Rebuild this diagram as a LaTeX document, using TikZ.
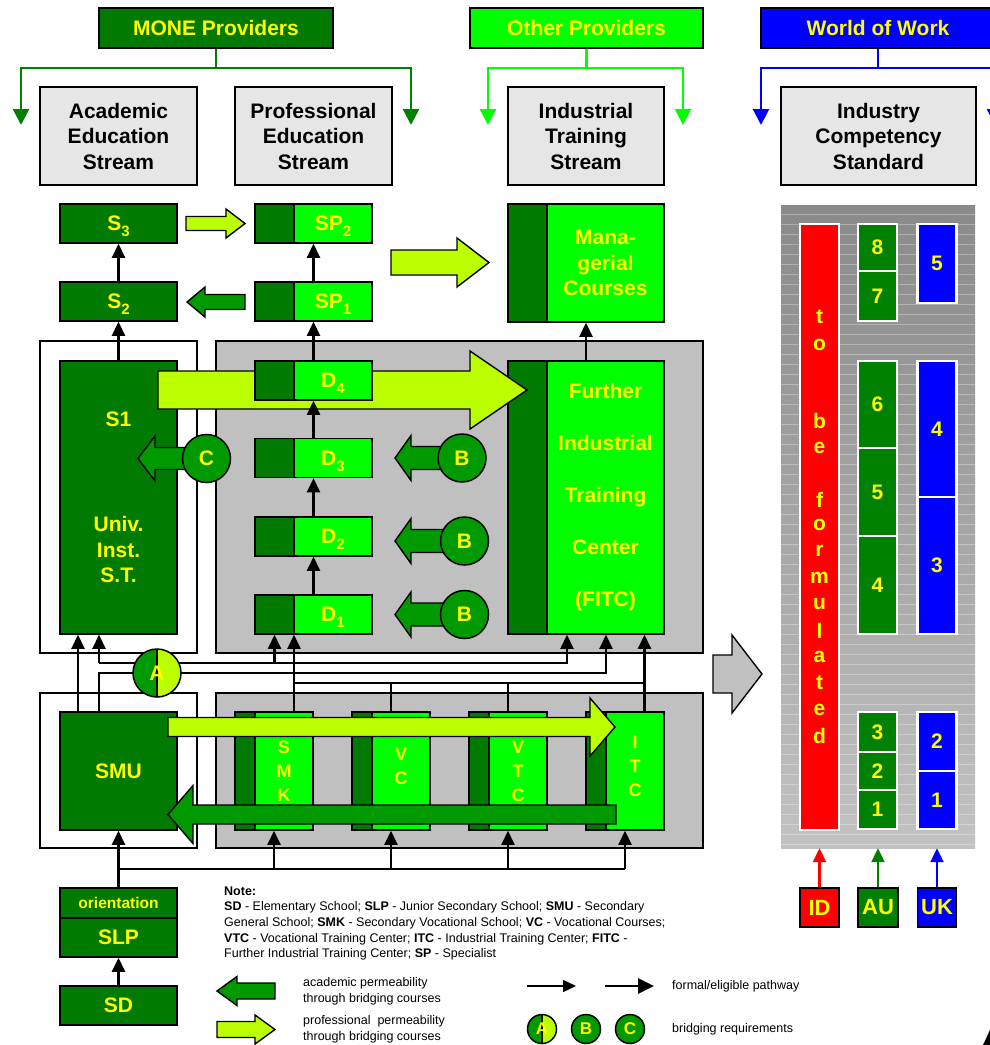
\documentclass[tikz,border=0pt]{standalone}
\usepackage{fontspec}
\setmainfont{Liberation Sans}
\usetikzlibrary{arrows.meta}

\newcommand{\boxfont}{\bfseries\fontsize{21}{25.5}\selectfont}
\newcommand{\notefont}{\fontsize{12.5}{15.6}\selectfont}
\newcommand{\lowidx}[1]{\raisebox{-6pt}[0pt][0pt]{\fontsize{15}{15}\selectfont #1}}
% fill, tail x, tip x, y, shaft half, head half, head length
\newcommand{\blockarrow}[7]{%
  \filldraw[fill=#1,draw=black,line width=1.4pt] (#2,{#4-#5}) -- ({#3-(#7)},{#4-#5}) -- ({#3-(#7)},{#4-#6}) -- (#3,#4)
    -- ({#3-(#7)},{#4+#6}) -- ({#3-(#7)},{#4+#5}) -- (#2,{#4+#5}) -- cycle;}

\begin{document}
\begin{tikzpicture}[x=1pt,y=-1pt,
  box/.style={draw,line width=1.5pt,inner sep=0pt,font=\boxfont,align=center},
  darkbox/.style={box,fill=monegreen,text=txtyellow},
  headbox/.style={box,fill=headgray},
  splitbox/.style={box,fill=brightgreen,path picture={
    \fill[monegreen] (path picture bounding box.north west) rectangle ([xshift=#1]path picture bounding box.south west);
    \draw[line width=1.5pt] ([xshift=#1]path picture bounding box.north west) -- ([xshift=#1]path picture bounding box.south west);}},
  lbl/.style={font=\boxfont,text=txtyellow,align=center},
  streamframe/.style={draw,line width=1.5pt,inner sep=0pt},
  bridge/.style={circle,draw,line width=1.5pt,fill=bridgegreen,inner sep=0pt,minimum size=48pt,font=\boxfont,text=txtyellow},
  halfbridge/.style={bridge,path picture={
    \fill[limearrow] (path picture bounding box.north) rectangle (path picture bounding box.south east);
    \draw[line width=1.5pt] (path picture bounding box.north) -- (path picture bounding box.south);}},
  pathway/.style={line width=2.2pt,-{Triangle[length=14pt,width=13pt]}},
  wire/.style={line width=2.2pt},
  feed/.style={line width=2.4pt,-{Triangle[length=16pt,width=16pt]}},
  compbar/.style={draw=white,line width=2.5pt,inner sep=0pt,minimum width=39pt,font=\boxfont,text=txtyellow}]
\definecolor{monegreen}{HTML}{007A00}
\definecolor{augreen}{HTML}{008000}
\definecolor{brightgreen}{HTML}{00FF00}
\definecolor{bridgegreen}{HTML}{009900}
\definecolor{limearrow}{HTML}{BBFF00}
\definecolor{boxgray}{HTML}{C0C0C0}
\definecolor{headgray}{HTML}{E6E6E6}
\definecolor{txtyellow}{HTML}{FFFF00}
\definecolor{wowblue}{HTML}{0000FF}
\definecolor{idred}{HTML}{FF0000}
\definecolor{paneltop}{HTML}{8A8A8A}
\definecolor{panelbot}{HTML}{C2C2C2}
\useasboundingbox (0,0) rectangle (990,1045);
\clip (0,0) rectangle (990,1045);

% providers
\node[darkbox,minimum width=234pt,minimum height=40pt] (mone) at (216,28) {MONE Providers};
\node[box,fill=brightgreen,text=txtyellow,minimum width=233pt,minimum height=40pt] (other) at (586.5,28) {Other Providers};
\node[box,fill=wowblue,text=txtyellow,minimum width=234pt,minimum height=40pt] (wow) at (878,28) {World of Work};
\coordinate (monel) at (21,125);   \coordinate (moner) at (411,125);
\coordinate (otherl) at (488,125); \coordinate (otherr) at (683,125);
\coordinate (wowl) at (761,125);   \coordinate (wowr) at (995,125);
\draw[feed,augreen] (mone.south) -- ++(0,19) -| (monel);
\draw[feed,augreen] (mone.south) -- ++(0,19) -| (moner);
\draw[feed,brightgreen] (other.south) -- ++(0,19) -| (otherl);
\draw[feed,brightgreen] (other.south) -- ++(0,19) -| (otherr);
\draw[feed,wowblue] (wow.south) -- ++(0,19) -| (wowl);
\draw[feed,wowblue] (wow.south) -- ++(0,19) -| (wowr);

\node[headbox,minimum width=157pt,minimum height=98pt] (academic) at (118.5,136) {Academic\\Education\\Stream};
\node[headbox,minimum width=157pt,minimum height=98pt] (professional) at (313.5,136) {Professional\\Education\\Stream};
\node[headbox,minimum width=156pt,minimum height=98pt] (industrial) at (586,136) {Industrial\\Training\\Stream};
\node[headbox,minimum width=195pt,minimum height=98pt] (standard) at (878.5,136) {Industry\\Competency\\Standard};

% upper levels
\node[darkbox,minimum width=117pt,minimum height=39pt] (s3) at (118.5,223.5) {S\lowidx{3}};
\node[darkbox,minimum width=117pt,minimum height=39pt] (s2) at (118.5,301.5) {S\lowidx{2}};
\node[splitbox=39pt,minimum width=117pt,minimum height=39pt,label={[lbl,xshift=19.5pt]center:{SP\lowidx{2}}}] (sp2) at (313.5,223.5) {};
\node[splitbox=39pt,minimum width=117pt,minimum height=39pt,label={[lbl,xshift=19.5pt]center:{SP\lowidx{1}}}] (sp1) at (313.5,301.5) {};
\node[splitbox=39pt,minimum width=156pt,minimum height=118pt,label={[lbl,xshift=19.5pt]center:{Mana-\\gerial\\Courses}}] (managerial) at (586,263) {};
\blockarrow{limearrow}{186}{245}{223.5}{7}{14.5}{19}
\blockarrow{bridgegreen}{245}{187}{302}{7.5}{15}{-18}
\blockarrow{limearrow}{391}{489}{262.5}{12.5}{24.5}{32}
\draw[pathway] (s2) -- (s3);
\draw[pathway] (sp1) -- (sp2);

% middle level
\node[streamframe,fill=white,minimum width=157pt,minimum height=312pt] (acadmid) at (118.5,497) {};
\node[streamframe,fill=boxgray,minimum width=487pt,minimum height=312pt] (profmid) at (459.5,497) {};
\node[darkbox,minimum width=117pt,minimum height=273pt] (s1) at (118.5,497.5) {S1\\[80pt]Univ.\\Inst.\\S.T.};
\node[splitbox=39pt,minimum width=156pt,minimum height=273pt,
  label={[lbl,xshift=19.5pt,font=\bfseries\fontsize{21}{52}\selectfont]center:{Further\\Industrial\\Training\\Center\\(FITC)}}] (fitc) at (586,497.5) {};
\blockarrow{limearrow}{158}{527}{390}{19}{39}{57}
\foreach \n/\y in {4/380.5,3/458,2/536.5,1/614.5}
  \node[splitbox=39pt,minimum width=117pt,minimum height=39pt,label={[lbl,xshift=19.5pt]center:{D\lowidx{\n}}}] (d\n) at (313.5,\y) {};
\draw[pathway] (s1) -- (s2);
\draw[pathway] (d1) -- (d2);
\draw[pathway] (d2) -- (d3);
\draw[pathway] (d3) -- (d4);
\draw[pathway] (d4) -- (sp1);
\draw[pathway] (fitc) -- (managerial);
\blockarrow{bridgegreen}{200}{138}{458.5}{11}{22.5}{-17}
\node[bridge] (cc) at (206.5,458.5) {C};
\foreach \n/\x/\y in {1/462/458,2/464.5/541,3/464.5/614.5}{
  \blockarrow{bridgegreen}{\x}{395}{\y}{11.5}{22.5}{-16}
  \node[bridge] (b\n) at (\x,\y) {B};}

% lower level
\node[streamframe,fill=white,minimum width=157pt,minimum height=155pt] (acadlow) at (118.5,770.5) {};
\node[streamframe,fill=boxgray,minimum width=487pt,minimum height=155pt] (proflow) at (459.5,770.5) {};
\node[darkbox,minimum width=117pt,minimum height=118pt] (smu) at (118.5,771) {SMU};
\foreach \col/\x/\txt/\up in {smk/274/{S\\M\\K}/0pt,vc/391/{V\\C}/5pt,vtc/508/{V\\T\\C}/0pt,itc/625/{I\\T\\C}/5pt}
  \node[splitbox=20pt,minimum width=78pt,minimum height=118pt,
    label={[lbl,xshift=10pt,yshift=\up,font=\bfseries\fontsize{18}{24}\selectfont]center:{\txt}}] (\col) at (\x,771) {};
\blockarrow{limearrow}{168}{615}{727}{9.5}{29}{25}
\blockarrow{bridgegreen}{616}{168}{814.5}{9.5}{29}{-25}
\blockarrow{boxgray}{713}{762}{674}{19}{39}{30}

% pathways between levels
\coordinate (busone) at (99,663);
\coordinate (bustwo) at (99,673);
\coordinate (busthree) at (294,683);
\coordinate (itcup) at ([xshift=19.5pt]itc.north);
\draw[pathway] ([xshift=-40.5pt]smu.north) -- ([xshift=-40.5pt]s1.south);
\draw[pathway] (busone) -- (busone |- s1.south);
\draw[pathway] (busone) -| ([xshift=-19pt]fitc.south);
\draw[pathway] ([xshift=-39pt]d1.south |- busone) -- ([xshift=-39pt]d1.south);
\draw[pathway] (bustwo |- smu.north) -- (bustwo) -| ([xshift=20pt]fitc.south);
\draw[pathway] ([xshift=20pt]smk.north) -- ([xshift=20pt]smk.north |- d1.south);
\draw[pathway] (itcup) -- (itcup |- fitc.south);
\draw[wire] (busthree) -- (busthree -| itcup);
\draw[wire] (vc.north) -- (vc.north |- busthree);
\draw[wire] (vtc.north) -- (vtc.north |- busthree);
\node[halfbridge] (aa) at (157,673) {A};

% entry
\node[darkbox,minimum width=117pt,minimum height=30pt,font=\bfseries\fontsize{15.5}{15.5}\selectfont] (orient) at (118.5,903) {orientation};
\node[darkbox,minimum width=117pt,minimum height=39pt] (slp) at (118.5,937.5) {SLP};
\node[darkbox,minimum width=117pt,minimum height=39pt] (sd) at (118.5,1005.5) {SD};
\coordinate (buslow) at (118.5,869);
\draw[pathway] (sd) -- (slp);
\draw[pathway] (orient) -- (smu);
\draw[wire] (buslow) -- (buslow -| itc.south);
\foreach \col in {smk,vc,vtc,itc}
  \draw[pathway] (\col.south |- buslow) -- (\col.south);

% note and legend
\node[anchor=north west,inner sep=0pt,align=left,font=\notefont] (note) at (224,886.5)
  {\textbf{Note:}\\
   \textbf{SD} - Elementary School; \textbf{SLP} - Junior Secondary School; \textbf{SMU} - Secondary\\
   General School; \textbf{SMK} - Secondary Vocational School; \textbf{VC} - Vocational Courses;\\
   \textbf{VTC} - Vocational Training Center; \textbf{ITC} - Industrial Training Center; \textbf{FITC} -\\
   Further Industrial Training Center; \textbf{SP} - Specialist};
\blockarrow{bridgegreen}{275}{217}{991}{8}{14.5}{-20}
\blockarrow{limearrow}{217}{275}{1029.5}{8}{14.5}{20}
\node[anchor=west,inner sep=0pt,align=left,font=\notefont] (acadkey) at (303,991) {academic permeability\\through bridging courses};
\node[anchor=west,inner sep=0pt,align=left,font=\notefont] (profkey) at (303,1029.5) {professional\ \ permeability\\through bridging courses};
\coordinate (thina) at (527,986);  \coordinate (thinb) at (576,986);
\coordinate (thicka) at (605,986); \coordinate (thickb) at (654,986);
\draw[line width=1.5pt,-{Triangle[length=13pt,width=12pt]}] (thina) -- (thinb);
\draw[line width=2.8pt,-{Triangle[length=16pt,width=15pt]}] (thicka) -- (thickb);
\node[anchor=west,inner sep=0pt,font=\notefont] (pathkey) at (672,986) {formal/eligible pathway};
\node[halfbridge,minimum size=29pt,font=\bfseries\fontsize{17}{17}\selectfont] (keya) at (542,1029) {A};
\node[bridge,minimum size=29pt,font=\bfseries\fontsize{17}{17}\selectfont] (keyb) at (586,1029) {B};
\node[bridge,minimum size=29pt,font=\bfseries\fontsize{17}{17}\selectfont] (keyc) at (630,1029) {C};
\node[anchor=west,inner sep=0pt,font=\notefont] (bridgekey) at (672,1029) {bridging requirements};

% competency standards
\node[inner sep=0pt,minimum width=194pt,minimum height=643pt,top color=paneltop,bottom color=panelbot] (panel) at (878,526.5) {};
\foreach \yy in {214,224,...,844}
  \draw[white,opacity=.3,line width=.8pt] (781,\yy) -- (975,\yy);
\node[compbar,fill=idred,minimum height=606pt] (idbar) at (819.5,527) {};
\foreach \chr/\y in {t/317,o/345,b/421,e/448,f/500,o/525,r/551,m/578,u/604,l/631,a/657,t/683,e/710,d/736}
  \node[lbl] at (819.5,\y) {\chr};
\foreach \num/\ya/\yb in {8/224/271,7/271/321,6/361/448,5/448/536,4/536/634,3/712/752,2/752/790,1/790/829}
  \node[compbar,fill=augreen,minimum height={\yb-\ya}] (au\num) at (877.5,{(\ya+\yb)/2}) {\num};
\foreach \num/\ya/\yb in {5/224/303,4/361/497,3/497/634,2/712/771,1/771/829}
  \node[compbar,fill=wowblue,minimum height={\yb-\ya}] (uk\num) at (937,{(\ya+\yb)/2}) {\num};
\node[box,fill=idred,text=txtyellow,minimum width=39pt,minimum height=39pt,font=\bfseries\fontsize{22}{22}\selectfont] (idbox) at (819.5,907.5) {ID};
\node[box,fill=augreen,text=txtyellow,minimum width=40pt,minimum height=39pt,font=\bfseries\fontsize{22}{22}\selectfont] (aubox) at (878,907.5) {AU};
\node[box,fill=wowblue,text=txtyellow,minimum width=39pt,minimum height=39pt,font=\bfseries\fontsize{22}{22}\selectfont] (ukbox) at (937,907.5) {UK};
\draw[line width=2.2pt,idred,-{Triangle[length=14pt,width=13pt]}] (idbox) -- (idbox |- panel.south);
\draw[line width=2.2pt,augreen,-{Triangle[length=14pt,width=13pt]}] (aubox) -- (aubox |- panel.south);
\draw[line width=2.2pt,wowblue,-{Triangle[length=14pt,width=13pt]}] (ukbox) -- (ukbox |- panel.south);
\fill (983,1045) -- (990,1030) -- (990,1045) -- cycle;
\end{tikzpicture}
\end{document}
